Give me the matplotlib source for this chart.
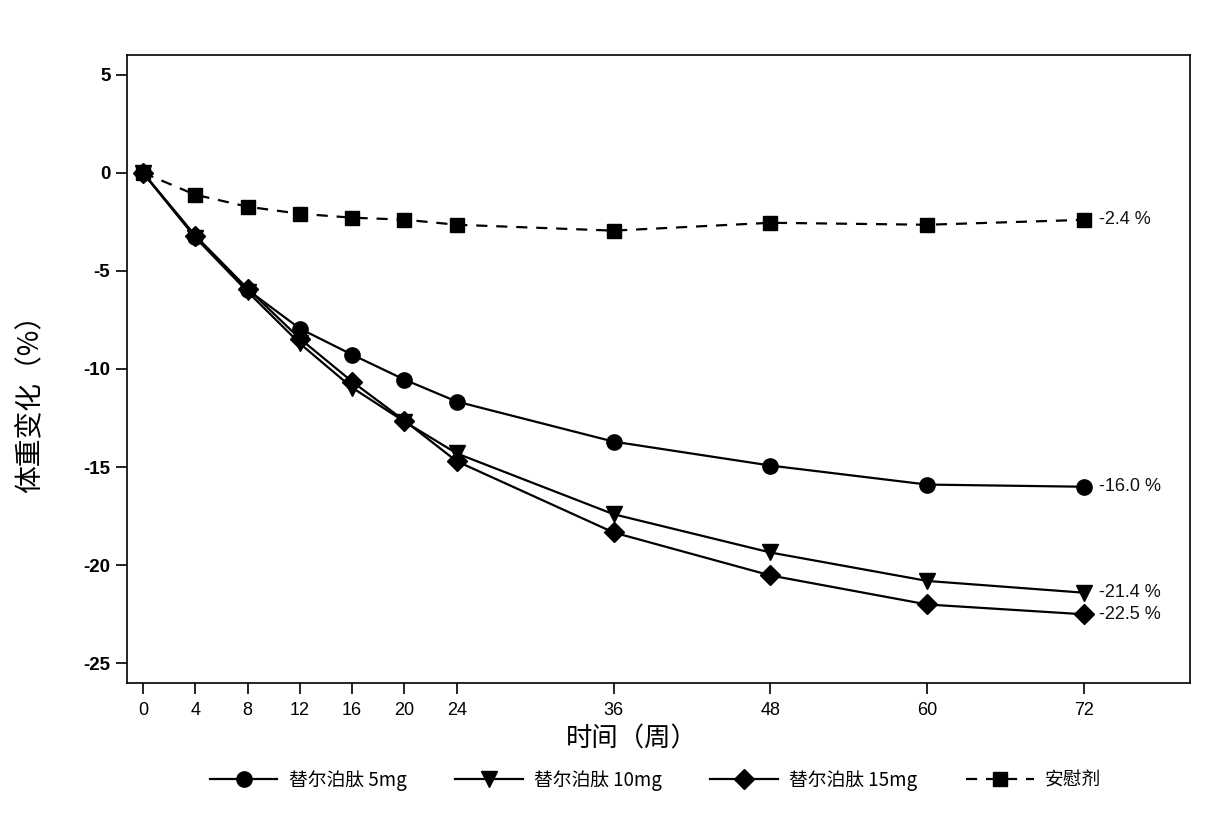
import matplotlib
matplotlib.use("Agg")
import matplotlib.pyplot as plt

plt.rcParams['font.family'] = ['Liberation Sans', 'Noto Sans CJK SC', 'DejaVu Sans']

weeks = [0, 4, 8, 12, 16, 20, 24, 36, 48, 60, 72]
tirz_5mg = [0, -3.26, -5.96, -7.94, -9.27, -10.54, -11.66, -13.7, -14.92, -15.89, -16.0]
tirz_10mg = [0, -3.3, -6.06, -8.7, -10.95, -12.68, -14.3, -17.4, -19.35, -20.8, -21.4]
tirz_15mg = [0, -3.2, -5.9, -8.45, -10.64, -12.63, -14.7, -18.33, -20.52, -22.0, -22.5]
placebo = [0, -1.12, -1.73, -2.09, -2.29, -2.39, -2.65, -2.95, -2.55, -2.65, -2.4]
labels = ['替尔泊肽 5mg', '替尔泊肽 10mg', '替尔泊肽 15mg', '安慰剂']
end_labels = ['-16.0 %', '-21.4 %', '-22.5 %', '-2.4 %']
y_ticks = [5, 0, -5, -10, -15, -20, -25]

fig = plt.figure(figsize=(12.32, 8.32), dpi=100)
ax = fig.add_axes([0.1031, 0.1791, 0.8628, 0.7548])

series = [tirz_5mg, tirz_10mg, tirz_15mg, placebo]
markers = ['o', 'v', 'D', 's']
msizes = [11, 11, 10, 9.5]
styles = ['-', '-', '-', (0, (5, 4))]
for vals, lab, mk, ms, ls in zip(series, labels, markers, msizes, styles):
    ax.plot(weeks, vals, color='black', lw=1.6, ls=ls, marker=mk, ms=ms,
            mfc='black', mec='black', label=lab)

for vals, txt in zip(series, end_labels):
    ax.annotate(txt, (weeks[-1], vals[-1]), xytext=(11, 0), textcoords='offset points',
                va='center', ha='left', fontsize=13, color='#111111')

ax.set_xlim(-1.22, 80.1)
ax.set_ylim(-26.0, 6.0)
ax.set_xticks(weeks)
ax.set_xticklabels([str(w) for w in weeks], fontsize=13)
ax.set_yticks(y_ticks)
ax.set_yticklabels([str(v) for v in y_ticks], fontsize=13.5, fontweight='bold')
ax.tick_params(axis='y', direction='out', length=8, width=1.2, pad=4)
ax.tick_params(axis='x', direction='out', length=8, width=1.2, pad=6)
for s in ax.spines.values():
    s.set_linewidth(1.2)

ax.set_xlabel('时间（周）', fontsize=19, family=['Noto Sans CJK SC', 'DejaVu Sans'])
ax.xaxis.set_label_coords(0.475, -0.068)
ax.set_ylabel('体重变化（%）', fontsize=20, family=['Noto Sans CJK SC', 'DejaVu Sans'])
ax.yaxis.set_label_coords(-0.077, 0.455)

leg = fig.legend(loc='center', bbox_to_anchor=(0.532, 0.062), ncol=4, frameon=False,
                 handlelength=3.6, columnspacing=2.6, handletextpad=0.6,
                 prop={'family': ['Noto Sans CJK SC', 'DejaVu Sans'], 'size': 13.5})

fig.savefig('out.png', dpi=100, facecolor='white')
